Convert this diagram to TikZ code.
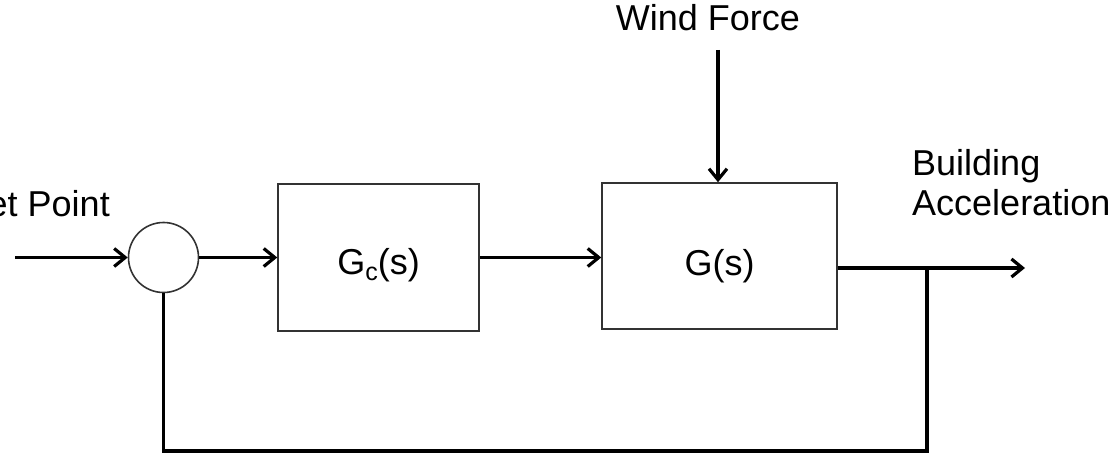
\documentclass[tikz,border=0pt]{standalone}
\usepackage{fontspec}
\setmainfont{Liberation Sans}
\usetikzlibrary{arrows.meta}
\begin{document}
\begin{tikzpicture}[x=1pt,y=-1pt,
  lbl/.style={font=\fontsize{36}{40}\selectfont, inner sep=0pt},
  blk/.style={draw=black!80, line width=1.5pt, minimum width=#1, inner sep=0pt, font=\fontsize{36}{40}\selectfont},
  sig/.style={line width=3.4pt, -{Straight Barb[length=11pt,width=18pt,line width=3.2pt]}},
  wire/.style={line width=3.4pt}
]
\useasboundingbox (0,0) rectangle (1118,465);
% nodes
\node[draw=black!80, line width=1.6pt, circle, minimum size=70pt, inner sep=0pt] (sum) at (163.5,257.5) {};
\node[blk=201pt, minimum height=147pt] (gc) at (378.5,257.5) {\smash{\raisebox{-17pt}{G\raisebox{-6pt}{\fontsize{25}{25}\selectfont c}(s)}}};
\node[blk=235pt, minimum height=146pt] (g) at (719.5,256) {\smash{\raisebox{-19pt}{G(s)}}};
\node[lbl, anchor=base east] (sp) at (110,216) {Set Point};
\node[lbl, anchor=base] (wf) at (708,31) {Wind Force};
\node[lbl, anchor=base west, align=left] (ba) at (912,215) {Building\\Acceleration};
% coordinates
\coordinate (in) at (15,257.5);
\coordinate (wtop) at (718,50);
\coordinate (out) at (1025,268);
\coordinate (br) at (927,268);
\coordinate (fb) at (927,451);
% connectors
\draw[sig] (in) -- (sum.west);
\draw[sig] (sum.east) -- (gc.west);
\draw[sig] (gc.east) -- (gc.east -| g.west);
\draw[sig] (wtop) -- (wtop |- g.north);
\draw[sig] (g.east |- out) -- (out);
\draw[wire] (br) -- (fb) -| (sum.south);
\end{tikzpicture}
\end{document}
